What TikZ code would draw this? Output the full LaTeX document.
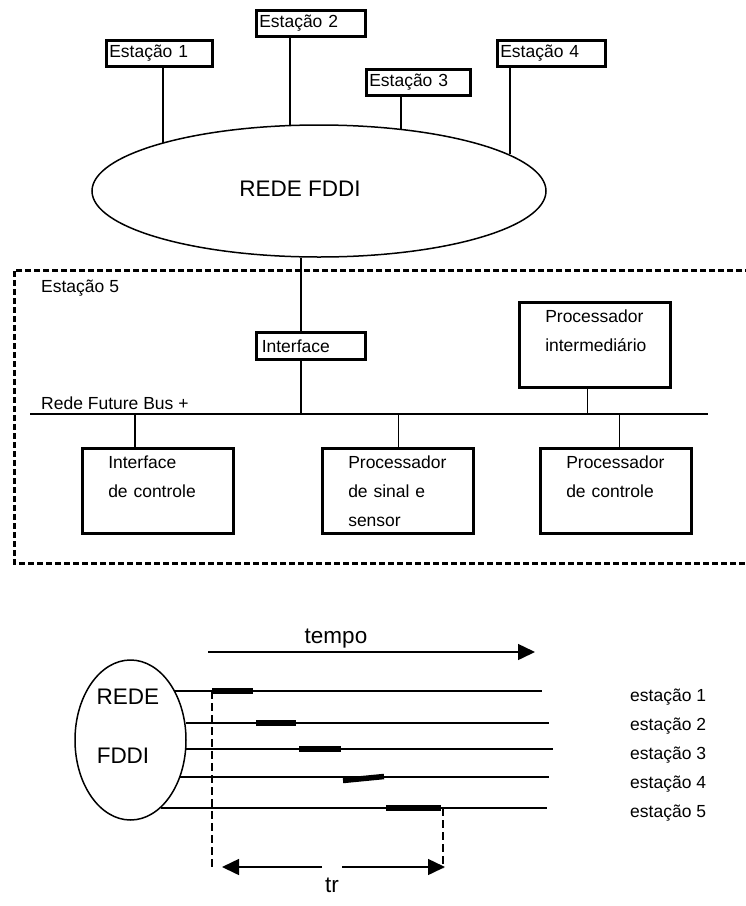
\documentclass[tikz,border=0pt]{standalone}
\usepackage{fontspec}
\setmainfont{Liberation Sans}
\usetikzlibrary{shapes.geometric,arrows.meta}
\newcommand\fbig{\fontsize{22.5}{27}\selectfont}
\newcommand\fmed{\fontsize{17.5}{29}\selectfont}

\begin{document}
\begin{tikzpicture}[x=1pt,y=-1pt,
  wire/.style={line width=1.5pt},
  frame/.style={draw, line width=3.5pt, anchor=north west, inner ysep=0pt, align=left, font=\fmed},
  stnbox/.style={frame, inner xsep=3pt, minimum height=26pt},
  unitbox/.style={frame, inner xsep=26pt, text width=99pt, minimum height=85pt},
  ring/.style={draw, ellipse, line width=1.5pt, inner sep=0pt},
  dashbox/.style={line width=3pt, dash pattern=on 6pt off 3pt},
  guide/.style={line width=1.5pt, dash pattern=on 8pt off 4pt},
  slot/.style={line width=5.5pt},
  bigtip/.style={-{Triangle[length=17pt,width=16pt]}},
  lbl/.style={font=\fmed, inner sep=0pt, anchor=base west}]

\clip (0,0) rectangle (746,906);

% ---------------- FDDI ring with its stations ----------------
\node[ring, minimum width=454pt, minimum height=132pt] (fddi) at (319,191) {};
\node[font=\fbig, inner sep=0pt] (fddilbl) at (300,189) {REDE FDDI};

\node[stnbox, text width=100pt] (s1) at (104.5,38.5) {Estação 1};
\node[stnbox, text width=103pt] (s2) at (254.5,8.5)  {Estação 2};
\node[stnbox, text width=98pt]  (s3) at (364.5,67.5) {Estação 3};
\node[stnbox, text width=102pt] (s4) at (495.5,38.5) {Estação 4};

\coordinate (d1) at ([xshift=3.5pt]s1.south);
\coordinate (d2) at ([xshift=-21pt]s2.south);
\coordinate (d3) at ([xshift=-17.5pt]s3.south);
\coordinate (d4) at ([xshift=-41.5pt]s4.south);
\draw[wire] (d1) -- (d1 |- fddi.163.1);
\draw[wire] (d2) -- (d2 |- fddi.115.2);
\draw[wire] (d3) -- (d3 |- fddi.38.2);
\draw[wire] (d4) -- (d4 |- fddi.11.4);

% ---------------- Station 5 ----------------
\draw[dashbox] (760,270) -- (14,270) -- (14,563) -- (760,563);
\node[lbl] (st5) at (41,292) {Estação 5};

\node[frame, inner xsep=5.5pt, text width=98pt, minimum height=27pt] (iface) at (254.5,330.5) {Interface};
\node[unitbox] (inter) at (517.5,300.5) {Processador\\intermediário\\\mbox{}};

\coordinate (busL) at (30,414);
\coordinate (busR) at (708,414);
\draw[wire] (busL) -- (busR);
\node[lbl] (buslbl) at (41,409.5) {Rede Future Bus +};

\node[unitbox] (ctl)  at (80.5,446.5)  {Interface\\de controle\\\mbox{}};
\node[unitbox] (sig)  at (320.5,446.5) {Processador\\de sinal e\\sensor};
\node[unitbox] (pctl) at (538.5,446.5) {Processador\\de controle\\\mbox{}};

\coordinate (ui) at ([xshift=-10pt]iface.north);
\draw[wire] (ui |- fddi.south) -- (ui);
\coordinate (uo) at ([xshift=-10pt]iface.south);
\draw[wire] (uo) -- (uo |- busL);
\coordinate (ut) at ([xshift=-7.5pt]inter.south);
\draw[wire] (ut) -- (ut |- busL);
\coordinate (u1) at ([xshift=-23pt]ctl.north);
\draw[wire] (u1 |- busL) -- (u1);
\coordinate (u2) at ([xshift=0.5pt]sig.north);
\draw[wire] (u2 |- busL) -- (u2);
\coordinate (u3) at ([xshift=3.5pt]pctl.north);
\draw[wire] (u3 |- busL) -- (u3);

% ---------------- Timing of the ring ----------------
\node[ring, minimum width=111pt, minimum height=160pt] (bell) at (130.5,740) {};
\node[font=\fbig, inner sep=0pt] (rede) at (128,697) {REDE};
\node[font=\fbig, inner sep=0pt] (fdd) at (123,756) {FDDI};

\coordinate (tA) at (208,652);
\coordinate (tB) at (535,652);
\draw[wire, bigtip] (tA) -- (tB);
\node[font=\fbig, inner sep=0pt, anchor=base] (tempo) at (336,643) {tempo};

\coordinate (e1) at (542,691);
\coordinate (e2) at (549,723);
\coordinate (e3) at (553,749);
\coordinate (e4) at (549,777);
\coordinate (e5) at (547,808);
\draw[wire] (bell.48.1 |- e1) -- (e1);
\draw[wire] (bell.17.4 |- e2) -- (e2);
\draw[wire] (bell.-9.3 |- e3) -- (e3);
\draw[wire] (bell.-37 |- e4) -- (e4);
\draw[wire] (bell.-66.8 |- e5) -- (e5);

% transmission slots of each station
\draw[slot] (212,691) -- (253,691);
\draw[slot] (256,723) -- (296,723);
\draw[slot] (299,749) -- (341,749);
\draw[line width=2.2pt] (273,777) -- (332,777);
\draw[slot] (343,780.5) -- (384,776.5);
\draw[slot] (386,808) -- (441,808);

\node[lbl] (l1) at (630,701) {estação 1};
\node[lbl] (l2) at (630,730) {estação 2};
\node[lbl] (l3) at (630,759) {estação 3};
\node[lbl] (l4) at (630,788) {estação 4};
\node[lbl] (l5) at (630,817) {estação 5};

% ring rotation time
\coordinate (g1) at (212,691);
\coordinate (g2) at (443,808);
\coordinate (gb) at (0,868);
\draw[guide] (g1) -- (g1 |- gb);
\draw[guide] (g2) -- (g2 |- gb);
\coordinate (rL) at (222,867);
\coordinate (rLm) at (322,867);
\coordinate (rRm) at (342,867);
\coordinate (rR) at (445,867);
\draw[wire, bigtip] (rLm) -- (rL);
\draw[wire, bigtip] (rRm) -- (rR);
\node[font=\fbig, inner sep=0pt, anchor=base] (tr) at (332,892) {tr};
\end{tikzpicture}
\end{document}
